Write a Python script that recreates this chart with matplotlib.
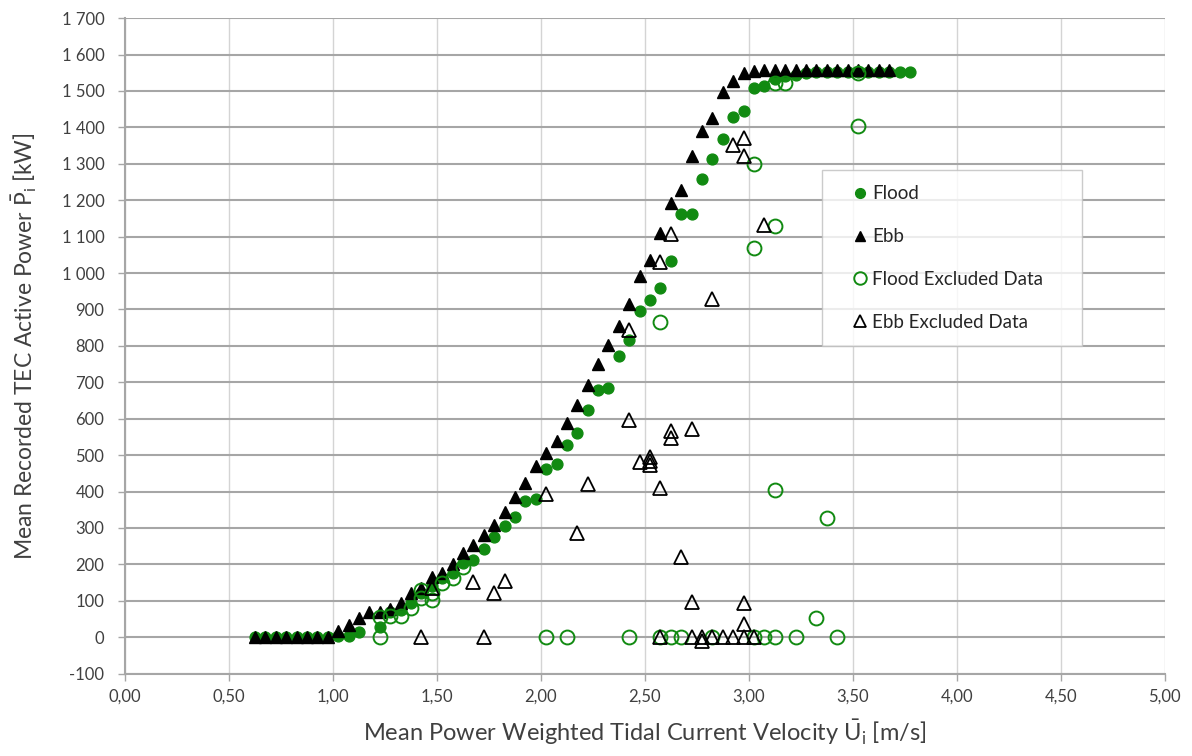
import matplotlib
matplotlib.use("Agg")
import matplotlib.pyplot as plt
from matplotlib.ticker import FuncFormatter

plt.rcParams['font.family'] = ['Lato', 'DejaVu Sans']
plt.rcParams['mathtext.fontset'] = 'custom'
plt.rcParams['mathtext.rm'] = 'Lato'
plt.rcParams['mathtext.it'] = 'Lato'

# ---------------- data ----------------
flood_u = [0.625, 0.675, 0.725, 0.775, 0.825, 0.875, 0.925, 0.975, 1.025, 1.075,
           1.125, 1.225, 1.275, 1.325, 1.375, 1.425, 1.475, 1.525, 1.575, 1.625,
           1.675, 1.725, 1.775, 1.825, 1.875, 1.925, 1.975, 2.025, 2.075, 2.125,
           2.175, 2.225, 2.275, 2.325, 2.375, 2.425, 2.475, 2.525, 2.575, 2.625,
           2.675, 2.725, 2.775, 2.825, 2.875, 2.925, 2.975, 3.025, 3.075, 3.125,
           3.175, 3.225, 3.275, 3.325, 3.375, 3.425, 3.475, 3.525, 3.575, 3.625,
           3.675, 3.725, 3.775]
flood_p = [0, 0, 0, 0, 0, 0, 0, 0, 3, 4,
           15, 27, 70, 75, 95, 120, 140, 163, 176, 203,
           212, 243, 276, 304, 330, 375, 380, 462, 476, 528,
           562, 625, 680, 684, 771, 817, 897, 927, 959, 1032,
           1163, 1163, 1257, 1314, 1367, 1429, 1444, 1509, 1515, 1533,
           1540, 1545, 1550, 1552, 1552, 1552, 1552, 1552, 1552, 1552,
           1552, 1552, 1552]

ebb_u = [0.625, 0.675, 0.725, 0.775, 0.825, 0.875, 0.925, 0.975, 1.025, 1.075,
         1.125, 1.175, 1.225, 1.275, 1.325, 1.375, 1.425, 1.475, 1.525, 1.575,
         1.625, 1.675, 1.725, 1.775, 1.825, 1.875, 1.925, 1.975, 2.025, 2.075,
         2.125, 2.175, 2.225, 2.275, 2.325, 2.375, 2.425, 2.475, 2.525, 2.575,
         2.625, 2.675, 2.725, 2.775, 2.825, 2.875, 2.925, 2.975, 3.025, 3.075,
         3.125, 3.175, 3.225, 3.275, 3.325, 3.375, 3.425, 3.475, 3.525, 3.575,
         3.625, 3.675]
ebb_p = [0, 0, 0, 0, 0, 0, 0, 0, 18, 34,
         52, 68, 70, 77, 93, 121, 135, 164, 177, 202,
         231, 252, 281, 309, 345, 385, 423, 469, 507, 538,
         588, 638, 693, 751, 803, 855, 915, 993, 1037, 1110,
         1191, 1227, 1321, 1389, 1426, 1497, 1527, 1550, 1554, 1557,
         1557, 1557, 1557, 1557, 1557, 1557, 1557, 1557, 1557, 1557,
         1557, 1557]

flood_excl_u = [1.225, 1.225, 1.275, 1.325, 1.375, 1.425, 1.425, 1.475, 1.475, 1.525,
                1.575, 1.625, 2.025, 2.125, 2.425, 2.575, 2.575, 2.625, 2.675, 2.825,
                3.025, 3.025, 3.025, 3.075, 3.125, 3.125, 3.125, 3.125, 3.175, 3.225,
                3.325, 3.375, 3.425, 3.525, 3.525]
flood_excl_p = [0, 55, 57, 57, 80, 130, 107, 102, 122, 148,
                162, 194, 0, 0, 0, 0, 865, 0, 0, 0,
                0, 1070, 1300, 0, 0, 403, 1128, 1522, 1522, 0,
                52, 327, 0, 1403, 1548]

ebb_excl_u = [1.425, 1.475, 1.675, 1.725, 1.775, 1.825, 2.025, 2.175, 2.225, 2.425,
              2.425, 2.475, 2.525, 2.525, 2.525, 2.575, 2.575, 2.575, 2.625, 2.625,
              2.625, 2.675, 2.725, 2.725, 2.725, 2.775, 2.775, 2.825, 2.825, 2.875,
              2.925, 2.925, 2.975, 2.975, 2.975, 2.975, 2.975, 3.025, 3.075]
ebb_excl_p = [0, 135, 152, 0, 121, 153, 394, 287, 421, 597,
              843, 482, 496, 485, 473, 409, 1030, 0, 565, 547,
              1108, 220, 572, 97, 0, 0, -10, 930, 0, 0,
              0, 1353, 1371, 1321, 93, 37, 0, 0, 1133]

x_ticks = [0.0, 0.5, 1.0, 1.5, 2.0, 2.5, 3.0, 3.5, 4.0, 4.5, 5.0]
y_ticks = list(range(-100, 1701, 100))

# ---------------- figure ----------------
green = '#118a11'
fig = plt.figure(figsize=(11.92, 7.56), dpi=100)
ax = fig.add_axes([0.105, 0.109, 0.872, 0.867])

ax.plot(flood_u, flood_p, linestyle='none', marker='o', ms=7.8,
        color=green, mec=green, label='Flood', zorder=3)
ax.plot(ebb_u, ebb_p, linestyle='none', marker='^', ms=8.5,
        color='black', mec='black', label='Ebb', zorder=4)
ax.plot(flood_excl_u, flood_excl_p, linestyle='none', marker='o', ms=10,
        mfc='none', mec=green, mew=1.4, label='Flood Excluded Data', zorder=5)
ax.plot(ebb_excl_u, ebb_excl_p, linestyle='none', marker='^', ms=10,
        mfc='none', mec='black', mew=1.3, label='Ebb Excluded Data', zorder=6)

ax.set_xlim(0, 5)
ax.set_ylim(-100, 1700)
ax.set_xticks(x_ticks)
ax.set_yticks(y_ticks)
ax.xaxis.set_major_formatter(FuncFormatter(lambda v, p: f"{v:.2f}".replace('.', ',')))
ax.yaxis.set_major_formatter(FuncFormatter(lambda v, p: f"{int(v):,}".replace(',', ' ')))

ax.grid(axis='y', color='#a6a6a6', linewidth=1.5, zorder=0)
ax.grid(axis='x', color='#d4d4d4', linewidth=1.0, zorder=0)
ax.set_axisbelow(True)

for s in ['top', 'right']:
    ax.spines[s].set_visible(False)
for s in ['left', 'bottom']:
    ax.spines[s].set_color('#a6a6a6')
    ax.spines[s].set_linewidth(1.5)

ax.tick_params(axis='y', direction='out', length=5, color='#a6a6a6', width=1,
               labelsize=12, labelcolor='#404040', pad=10)
ax.tick_params(axis='x', direction='out', length=5, color='#a6a6a6', width=1,
               labelsize=12, labelcolor='#404040', pad=6)

ax.set_xlabel(r'Mean Power Weighted Tidal Current Velocity $\bar{\mathrm{U}}_{\mathrm{i}}$ [m/s]',
              fontsize=17, color='#404040', labelpad=9)
ax.set_ylabel(r'Mean Recorded TEC Active Power $\bar{\mathrm{P}}_{\mathrm{i}}$ [kW]',
              fontsize=16.5, color='#404040', labelpad=16)

leg = ax.legend(loc='upper left', bbox_to_anchor=(0.670, 0.768, 0.251, 0.0),
                mode='expand', frameon=True, fancybox=False, fontsize=13.5,
                labelspacing=1.38, borderpad=0.8, handlelength=2.5,
                handletextpad=-0.6, markerscale=0.9, borderaxespad=0)
leg.get_frame().set_edgecolor('#bfbfbf')
leg.get_frame().set_linewidth(1.0)
for t in leg.get_texts():
    t.set_color('#262626')
leg.set_zorder(10)

fig.savefig('out.png', dpi=100)
